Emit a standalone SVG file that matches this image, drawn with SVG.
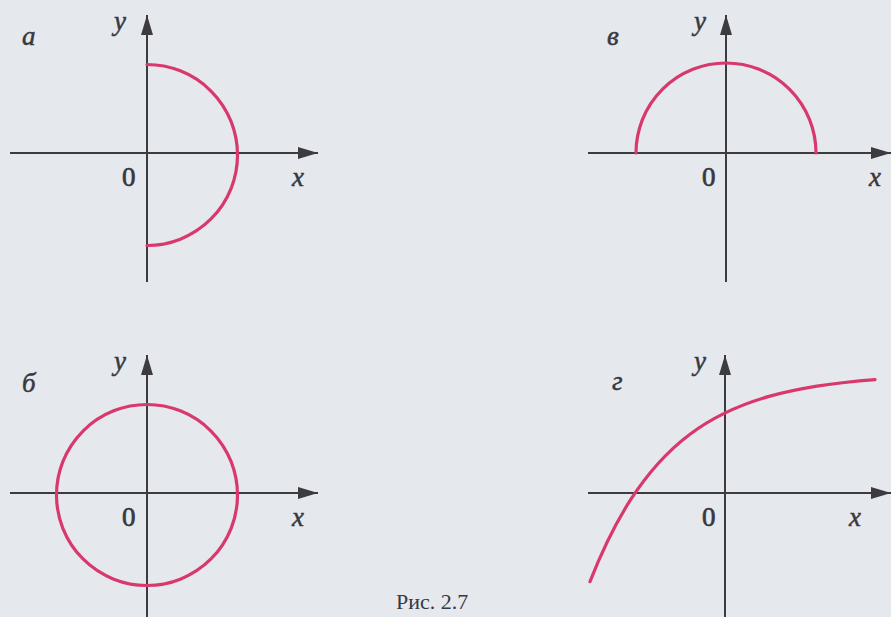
<svg xmlns="http://www.w3.org/2000/svg" width="891" height="617" viewBox="0 0 891 617">
<style>
.axis{stroke:#3b3b40;stroke-width:2;fill:none}
.curve{stroke:#d9386c;stroke-width:3.2;fill:none;stroke-linecap:round;stroke-linejoin:round}
.lbl{font-family:"Liberation Serif","Times New Roman",serif;font-style:italic;font-size:27px;fill:#38383e;stroke:#38383e;stroke-width:0.5}
.num{font-family:"Liberation Serif","Times New Roman",serif;font-size:27px;fill:#38383e;stroke:#38383e;stroke-width:0.7}
.cap{font-family:"Liberation Serif","Times New Roman",serif;font-size:22px;fill:#38383e}
</style>
<defs>
<marker id="arr" viewBox="0 0 20 12" refX="20" refY="6" markerWidth="20" markerHeight="12" markerUnits="userSpaceOnUse" orient="auto">
<path d="M0,0 L20,6 L0,12 z" fill="#3b3b40"/>
</marker>
</defs>
<rect width="891" height="617" fill="#e5e9ed"/>
<g id="panel-a">
<line class="axis" x1="10" y1="153" x2="318" y2="153" marker-end="url(#arr)"/>
<line class="axis" x1="147" y1="282" x2="147" y2="15" marker-end="url(#arr)"/>
<path class="curve" d="M147,64.5 A90.5,90.5 0 0 1 147,245.5"/>
<text class="lbl" x="22" y="45">a</text>
<text class="lbl" x="114" y="30">y</text>
<text class="num" x="122" y="186">0</text>
<text class="lbl" x="292" y="186">x</text>
</g>
<g id="panel-v">
<line class="axis" x1="588" y1="153" x2="891" y2="153" marker-end="url(#arr)"/>
<line class="axis" x1="726" y1="282" x2="726" y2="15" marker-end="url(#arr)"/>
<path class="curve" d="M636,153 A90,90 0 0 1 816,153"/>
<text class="lbl" x="607" y="45">в</text>
<text class="lbl" x="694" y="30">y</text>
<text class="num" x="702" y="186">0</text>
<text class="lbl" x="869" y="186">x</text>
</g>
<g id="panel-b">
<line class="axis" x1="10" y1="493" x2="318" y2="493" marker-end="url(#arr)"/>
<line class="axis" x1="147" y1="620" x2="147" y2="355" marker-end="url(#arr)"/>
<circle class="curve" cx="147" cy="495" r="90.5"/>
<text class="lbl" x="22" y="392">б</text>
<text class="lbl" x="114" y="370">y</text>
<text class="num" x="122" y="526">0</text>
<text class="lbl" x="292" y="526">x</text>
</g>
<g id="panel-g">
<line class="axis" x1="588" y1="493" x2="891" y2="493" marker-end="url(#arr)"/>
<line class="axis" x1="725" y1="620" x2="725" y2="355" marker-end="url(#arr)"/>
<path class="curve" d="M590,581.7 C603.33,547.5 616.67,521.6 630,500.7 C650,469.4 670,449.2 690,434.2 C716.67,414.2 743.33,403.6 770,396.1 C805,386.3 840,382.3 875,379.6"/>
<text class="lbl" x="612" y="390">г</text>
<text class="lbl" x="694" y="370">y</text>
<text class="num" x="702" y="526">0</text>
<text class="lbl" x="849" y="526">x</text>
</g>
<text class="cap" x="396" y="609">Рис. 2.7</text>
</svg>
